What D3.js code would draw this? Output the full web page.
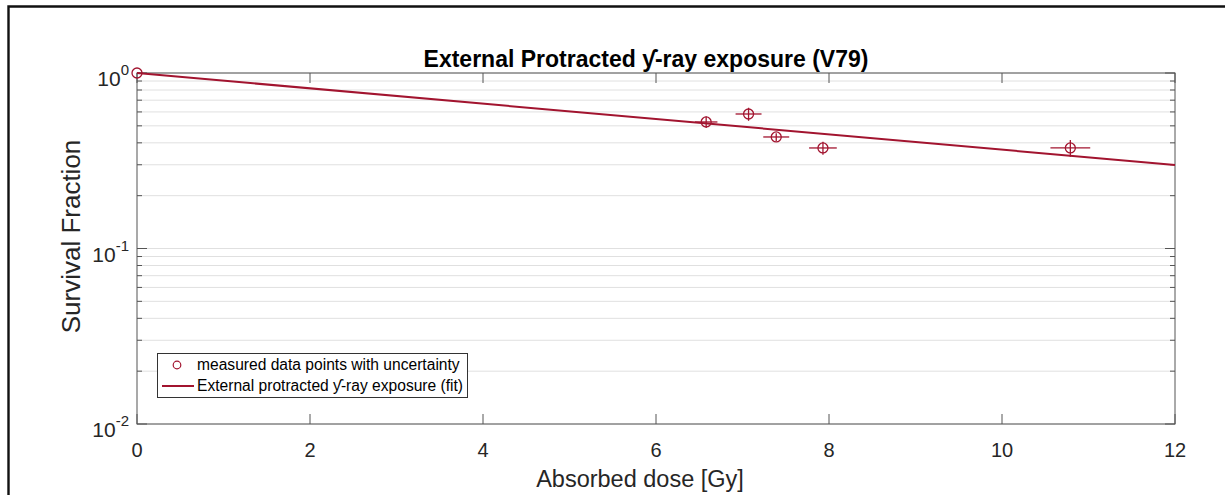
<!DOCTYPE html>
<html>
<head>
<meta charset="utf-8">
<script src="https://cdn.jsdelivr.net/npm/d3@7"></script>
<style>
  html, body { margin: 0; padding: 0; background: #fff; }
  svg { display: block; font-family: "Liberation Sans", Arial, sans-serif; }
</style>
</head>
<body>
<svg id="chart" width="1225" height="495"></svg>
<script>
// Measured survival fractions with uncertainties (dose in Gy)
const doses      = [0, 6.58, 7.07, 7.39, 7.93, 10.79];
const survival   = [1.0, 0.526, 0.584, 0.432, 0.374, 0.374];
const doseErr    = [0, 0.13, 0.15, 0.15, 0.16, 0.23];
const survErr    = [0, 0.04, 0.05, 0.022, 0.032, 0.041];

// Single-exponential fit S(D) = exp(-alpha * D)
const fitAlpha = 0.1006;
const fitDoses = [0, 12];

const xTicks = [0, 2, 4, 6, 8, 10, 12];
const yDecades = [-2, -1, 0];

const titleText  = "External Protracted ƴ-ray exposure (V79)";
const xLabelText = "Absorbed dose [Gy]";
const yLabelText = "Survival Fraction";
const legendTexts = ["measured data points with uncertainty", "External protracted ƴ-ray exposure (fit)"];

const red = "#A2142F";
const axisCol = "#555";

const svg = d3.select("#chart");
const L = 137, R = 1175, T = 73, B = 424;

// Outer frame
svg.append("path").attr("d", `M8.5,495 L8.5,6.5 L1225,6.5`)
  .attr("fill", "none").attr("stroke", "#111").attr("stroke-width", 2.4);

const x = d3.scaleLinear().domain([0, 12]).range([L, R]);
const y = d3.scaleLog().domain([0.01, 1]).range([B, T]);

// Horizontal grid lines at every minor/major log value
const gridVals = [];
yDecades.forEach(e => { if (e < 0) for (let m = 1; m <= 9; m++) gridVals.push(m * Math.pow(10, e)); });
gridVals.push(1);
svg.append("g").selectAll("line").data(gridVals).join("line")
  .attr("x1", L).attr("x2", R)
  .attr("y1", d => y(d)).attr("y2", d => y(d))
  .attr("stroke", "#e0e0e0").attr("stroke-width", 1);

// Axes box
svg.append("rect").attr("x", L).attr("y", T).attr("width", R - L).attr("height", B - T)
  .attr("fill", "none").attr("stroke", axisCol).attr("stroke-width", 1);

// X ticks (inward, top and bottom) and labels
const gx = svg.append("g");
gx.selectAll("line.b").data(xTicks).join("line").attr("class", "b")
  .attr("x1", d => x(d)).attr("x2", d => x(d)).attr("y1", B).attr("y2", B - 10)
  .attr("stroke", axisCol);
gx.selectAll("line.t").data(xTicks).join("line").attr("class", "t")
  .attr("x1", d => x(d)).attr("x2", d => x(d)).attr("y1", T).attr("y2", T + 10)
  .attr("stroke", axisCol);
gx.selectAll("text").data(xTicks).join("text")
  .attr("x", d => x(d)).attr("y", 457).attr("text-anchor", "middle")
  .attr("font-size", 20).attr("fill", "#262626").text(d => d);

// Y ticks (inward, left and right)
const gy = svg.append("g");
const minorVals = gridVals.filter(v => Math.abs(Math.log10(v) - Math.round(Math.log10(v))) > 1e-9);
const majorVals = yDecades.map(e => Math.pow(10, e));
[[L, 1], [R, -1]].forEach(([x0, dir]) => {
  gy.append("g").selectAll("line").data(minorVals).join("line")
    .attr("x1", x0).attr("x2", x0 + dir * 5).attr("y1", d => y(d)).attr("y2", d => y(d))
    .attr("stroke", axisCol);
  gy.append("g").selectAll("line").data(majorVals).join("line")
    .attr("x1", x0).attr("x2", x0 + dir * 10).attr("y1", d => y(d)).attr("y2", d => y(d))
    .attr("stroke", axisCol);
});
const yl = gy.append("g").selectAll("text").data(yDecades).join("text")
  .attr("x", 129).attr("y", d => y(Math.pow(10, d)) + 13).attr("text-anchor", "end")
  .attr("font-size", 21).attr("fill", "#262626");
yl.append("tspan").text("10");
yl.append("tspan").attr("dy", -11).attr("font-size", 15).text(d => d);

// Fit line
const fitPts = fitDoses.map(D => [D, Math.exp(-fitAlpha * D)]);
svg.append("path").datum(fitPts)
  .attr("d", d3.line().x(d => x(d[0])).y(d => y(d[1])))
  .attr("fill", "none").attr("stroke", red).attr("stroke-width", 2);

// Measured points with error bars
const pts = doses.map((D, i) => ({ D, S: survival[i], dx: doseErr[i], dy: survErr[i] }));
const gp = svg.append("g").attr("stroke", red).attr("fill", "none").attr("stroke-width", 1.3);
pts.filter(p => p.dx > 0).forEach(p => {
  gp.append("line").attr("x1", x(p.D - p.dx)).attr("x2", x(p.D + p.dx))
    .attr("y1", y(p.S)).attr("y2", y(p.S));
  gp.append("line").attr("x1", x(p.D)).attr("x2", x(p.D))
    .attr("y1", y(p.S - p.dy)).attr("y2", y(p.S + p.dy));
});
gp.selectAll("circle").data(pts).join("circle")
  .attr("cx", p => x(p.D)).attr("cy", p => y(p.S)).attr("r", 5);

// Title and axis labels
svg.append("text").attr("x", (L + R) / 2 - 10).attr("y", 67).attr("text-anchor", "middle")
  .attr("font-size", 23).attr("font-weight", "bold").attr("fill", "#000").text(titleText);
svg.append("text").attr("x", (L + R) / 2 - 16).attr("y", 487).attr("text-anchor", "middle")
  .attr("font-size", 23.5).attr("fill", "#262626").text(xLabelText);
svg.append("text").attr("transform", `translate(80,${(T + B) / 2 - 12}) rotate(-90)`)
  .attr("text-anchor", "middle").attr("font-size", 26).attr("fill", "#262626").text(yLabelText);

// Legend
const lg = svg.append("g");
lg.append("rect").attr("x", 157.5).attr("y", 353.5).attr("width", 310).attr("height", 44)
  .attr("fill", "#fff").attr("stroke", "#333").attr("stroke-width", 1);
lg.append("circle").attr("cx", 177).attr("cy", 365).attr("r", 3.8)
  .attr("fill", "none").attr("stroke", red).attr("stroke-width", 1.2);
lg.append("line").attr("x1", 162).attr("x2", 194).attr("y1", 386).attr("y2", 386)
  .attr("stroke", red).attr("stroke-width", 2);
lg.selectAll("text").data(legendTexts).join("text")
  .attr("x", 197).attr("y", (d, i) => 370 + i * 21)
  .attr("font-size", 15.6).attr("fill", "#000").text(d => d);
</script>
</body>
</html>
